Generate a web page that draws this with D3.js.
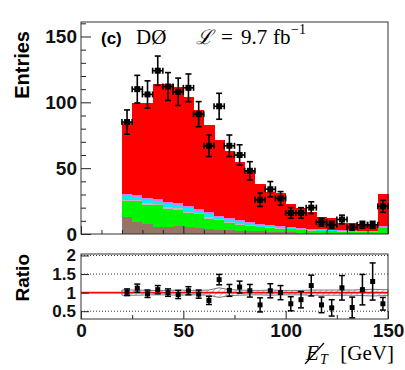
<!DOCTYPE html>
<html>
<head>
<meta charset="utf-8">
<script src="https://cdn.jsdelivr.net/npm/d3@7"></script>
<style>
body { margin: 0; background: #fff; }
</style>
</head>
<body>
<svg id="chart" width="405" height="370"></svg>
<script>
"use strict";
// bins: lower edges in GeV, all 5 GeV wide
var binLow = [20,25,30,35,40,45,50,55,60,65,70,75,80,85,90,95,100,105,110,115,120,125,130,135,140,145];
var binWidth = 5;

// stacked MC components (entries per bin), bottom to top
var bkgBrown   = [12.6,9.3,7.5,5.6,5.0,6.0,5.0,4.8,3.8,3.2,3.0,2.5,2.0,2.3,1.5,1.5,1.2,1.0,1.0,0.8,0.8,0.6,0.6,0.5,0.5,0.8];
var bkgGreen   = [12.4,15.7,14.5,16.4,14.0,12.5,10.7,10.2,7.7,7.3,5.0,4.0,4.0,2.7,3.0,2.5,2.3,2.0,1.5,1.4,1.2,1.2,1.0,1.0,1.0,3.7];
var bkgGray    = [1.2,1.1,1.2,1.1,1.2,1.2,1.3,1.0,1.2,0.9,1.1,1.0,0.7,0.6,0.5,0.5,0.4,0.4,0.4,0.3,0.3,0.3,0.3,0.2,0.2,0.4];
var bkgCyan    = [2.3,2.0,2.3,2.0,2.3,2.3,2.4,1.8,2.3,1.6,2.0,1.8,1.4,1.1,0.9,0.9,0.7,0.7,0.7,0.6,0.5,0.5,0.5,0.5,0.5,0.7];
var bkgMagenta = [1.5,1.4,1.5,1.4,1.5,1.5,1.6,1.2,1.5,1.0,1.4,1.2,0.9,0.8,0.6,0.6,0.4,0.4,0.4,0.4,0.4,0.4,0.3,0.3,0.3,0.4];
var bkgRed     = [54,70,72.5,87.5,90,88.5,83,75.5,66.1,57.2,50.5,44.5,38.5,30.5,25.5,25,18,15,13,9.5,8.8,5.5,5.3,4,4,24.3];

// observed data
var dataCounts = [85,110,106,124,112,108,111,91,67,97,67,60,48,26,34,27,16,16,20,9,7,11,5,7,7,21];

// ratio panel
var ratioVals = [1.01,1.12,0.97,1.08,1.0,0.95,1.05,0.96,0.79,1.35,1.06,1.15,1.05,0.67,1.05,1.0,0.70,0.81,1.19,0.67,0.59,1.13,0.60,1.08,1.30,0.70];
var ratioErr  = [0.09,0.11,0.10,0.11,0.10,0.11,0.11,0.11,0.11,0.14,0.16,0.16,0.17,0.19,0.19,0.19,0.19,0.22,0.28,0.21,0.22,0.33,0.28,0.41,0.50,0.17];
var systBand  = [0.07,0.07,0.06,0.06,0.06,0.07,0.06,0.06,0.07,0.13,0.08,0.07,0.06,0.06,0.07,0.06,0.06,0.06,0.07,0.07,0.07,0.07,0.07,0.08,0.09,0.08];

var xTicks = [0,50,100,150];
var yTicksMain = [0,50,100,150];
var yTicksRatio = [0.5,1,1.5,2];

var layerKeys = ["brown","green","gray","cyan","magenta","red"];
var layerColors = {brown:"#937666", green:"#00f500", gray:"#c8b4c0", cyan:"#00f0f0", magenta:"#f070f0", red:"#ff0000"};

var svg = d3.select("#chart");
var mainTop = 22, mainBottom = 234, ratioTop = 254, ratioBottom = 319;
var left = 81, right = 388;

var x = d3.scaleLinear().domain([0,150]).range([left,right]);
var yMain = d3.scaleLinear().domain([0,161]).range([mainBottom,mainTop]);
var yRatio = d3.scaleLinear().domain([0.29,2.04]).range([ratioBottom,ratioTop]);

var rows = binLow.map(function(lo,i){
  return {lo:lo, brown:bkgBrown[i], green:bkgGreen[i], gray:bkgGray[i], cyan:bkgCyan[i], magenta:bkgMagenta[i], red:bkgRed[i]};
});
var stacked = d3.stack().keys(layerKeys)(rows);

// stacked histogram
svg.append("g").selectAll("g").data(stacked).join("g")
  .attr("fill", function(s){ return layerColors[s.key]; })
  .selectAll("rect").data(function(s){ return s; }).join("rect")
  .attr("shape-rendering","crispEdges")
  .attr("x", function(d){ return x(d.data.lo); })
  .attr("width", function(d){ return x(d.data.lo+binWidth)-x(d.data.lo)+0.5; })
  .attr("y", function(d){ return yMain(d[1]); })
  .attr("height", function(d){ return Math.max(0, yMain(d[0])-yMain(d[1])); });

// main frame and axes
var axisFont = function(g, size){
  g.select(".domain").remove();
  g.selectAll("line").attr("stroke","#222");
  g.selectAll("text").attr("font-family","'Liberation Sans', Arial, sans-serif")
    .attr("font-weight","bold").attr("font-size",size).attr("fill","#111");
};
svg.append("g").attr("transform","translate("+left+",0)")
  .call(d3.axisLeft(yMain).tickValues(yTicksMain).tickSize(-10).tickPadding(4).tickFormat(d3.format("d")))
  .call(axisFont, 19);
svg.append("g").attr("transform","translate("+left+",0)")
  .call(d3.axisLeft(yMain).tickValues(d3.range(10,161,10).filter(function(v){ return v%50; })).tickSize(-5).tickFormat(""))
  .call(axisFont, 19);
svg.append("g").attr("transform","translate(0,"+mainBottom+")")
  .call(d3.axisBottom(x).tickValues(xTicks).tickSize(-8).tickFormat(""))
  .call(axisFont, 19);
svg.append("g").attr("transform","translate(0,"+mainBottom+")")
  .call(d3.axisBottom(x).tickValues(d3.range(10,150,10).filter(function(v){ return v%50; })).tickSize(-4).tickFormat(""))
  .call(axisFont, 19);
svg.append("rect").attr("x",left).attr("y",mainTop).attr("width",right-left).attr("height",mainBottom-mainTop)
  .attr("fill","none").attr("stroke","#333").attr("stroke-width",1);

// data points with errors
var pts = svg.append("g").attr("stroke","#000").attr("stroke-width",1.6);
binLow.forEach(function(lo,i){
  var n = dataCounts[i], e = Math.sqrt(n);
  var cx = x(lo+binWidth/2), cy = yMain(n);
  var yh = yMain(n+e), yl = yMain(n-e);
  var xl = x(lo), xr = x(lo+binWidth);
  pts.append("line").attr("x1",cx).attr("x2",cx).attr("y1",yh).attr("y2",yl);
  pts.append("line").attr("x1",cx-3).attr("x2",cx+3).attr("y1",yh).attr("y2",yh);
  pts.append("line").attr("x1",cx-3).attr("x2",cx+3).attr("y1",yl).attr("y2",yl);
  pts.append("line").attr("x1",xl).attr("x2",xr).attr("y1",cy).attr("y2",cy);
  pts.append("line").attr("x1",xl).attr("x2",xl).attr("y1",cy-3).attr("y2",cy+3);
  pts.append("line").attr("x1",xr).attr("x2",xr).attr("y1",cy-3).attr("y2",cy+3);
  pts.append("rect").attr("x",cx-3).attr("y",cy-3).attr("width",6).attr("height",6)
    .attr("fill","#000").attr("stroke","none");
});

// title text
var serif = "'Liberation Serif', 'DejaVu Serif', serif";
svg.append("text").attr("x",101).attr("y",44).attr("font-family","'Liberation Sans', Arial, sans-serif")
  .attr("font-weight","bold").attr("font-size",17).text("(c)");
svg.append("text").attr("x",136).attr("y",44).attr("font-family",serif).attr("font-size",21).text("DØ");
svg.append("text").attr("x",196).attr("y",44).attr("font-family","'DejaVu Serif', serif").attr("font-style","italic")
  .attr("font-size",20).text("ℒ");
svg.append("text").attr("x",221).attr("y",44).attr("font-family",serif).attr("font-size",21).text("=");
svg.append("text").attr("x",241).attr("y",44).attr("font-family",serif).attr("font-size",21).text("9.7");
svg.append("text").attr("x",273).attr("y",44).attr("font-family",serif).attr("font-size",21).text("fb");
svg.append("text").attr("x",291).attr("y",34).attr("font-family",serif).attr("font-size",14).text("−1");

// y label
svg.append("text").attr("transform","translate(29,31) rotate(-90)").attr("text-anchor","end")
  .attr("font-family","'Liberation Sans', Arial, sans-serif").attr("font-weight","bold").attr("font-size",20)
  .text("Entries");

// ratio panel
var grid = svg.append("g");
yTicksRatio.forEach(function(v){
  grid.append("line").attr("x1",left).attr("x2",right).attr("y1",yRatio(v)).attr("y2",yRatio(v))
    .attr("stroke","#000").attr("stroke-width",0.8).attr("stroke-dasharray","1,2");
});

var defs = svg.append("defs");
defs.append("pattern").attr("id","hatch").attr("patternUnits","userSpaceOnUse")
  .attr("width",4).attr("height",4).attr("patternTransform","rotate(45)")
  .append("line").attr("x1",0).attr("y1",0).attr("x2",0).attr("y2",4)
  .attr("stroke","#888").attr("stroke-width",1.2);

var bandPts = [{x:binLow[0], h:systBand[0]}];
binLow.forEach(function(lo,i){ bandPts.push({x:lo+binWidth/2, h:systBand[i]}); });
bandPts.push({x:binLow[binLow.length-1]+binWidth, h:systBand[systBand.length-1]});
svg.append("path").datum(bandPts)
  .attr("d", d3.area().x(function(d){ return x(d.x); })
    .y0(function(d){ return yRatio(1-d.h); }).y1(function(d){ return yRatio(1+d.h); }))
  .attr("fill","url(#hatch)").attr("stroke","#777").attr("stroke-width",1);

svg.append("line").attr("x1",left).attr("x2",right).attr("y1",yRatio(1)).attr("y2",yRatio(1))
  .attr("stroke","#ff0000").attr("stroke-width",1.6);

var rpts = svg.append("g").attr("stroke","#000").attr("stroke-width",1.5);
binLow.forEach(function(lo,i){
  var r = ratioVals[i], e = ratioErr[i];
  var cx = x(lo+binWidth/2), cy = yRatio(r);
  var yh = yRatio(r+e), yl = yRatio(Math.max(0.29, r-e));
  rpts.append("line").attr("x1",cx).attr("x2",cx).attr("y1",yh).attr("y2",yl);
  rpts.append("line").attr("x1",cx-3).attr("x2",cx+3).attr("y1",yh).attr("y2",yh);
  if (r-e > 0.29) rpts.append("line").attr("x1",cx-3).attr("x2",cx+3).attr("y1",yl).attr("y2",yl);
  rpts.append("rect").attr("x",cx-2.5).attr("y",cy-2.5).attr("width",5).attr("height",5)
    .attr("fill","#000").attr("stroke","none");
});

svg.append("g").attr("transform","translate("+left+",0)")
  .call(d3.axisLeft(yRatio).tickValues(yTicksRatio).tickSize(-8).tickPadding(5).tickFormat(d3.format("")))
  .call(axisFont, 17);
svg.append("g").attr("transform","translate(0,"+ratioBottom+")")
  .call(d3.axisBottom(x).tickValues(xTicks).tickSize(-8).tickPadding(5).tickFormat(d3.format("d")))
  .call(axisFont, 19);
svg.append("g").attr("transform","translate(0,"+ratioBottom+")")
  .call(d3.axisBottom(x).tickValues([25,75,125]).tickSize(-4).tickFormat(""))
  .call(axisFont, 19);
svg.append("rect").attr("x",left).attr("y",ratioTop).attr("width",right-left).attr("height",ratioBottom-ratioTop)
  .attr("fill","none").attr("stroke","#333").attr("stroke-width",1);

svg.append("text").attr("transform","translate(29,254) rotate(-90)").attr("text-anchor","end")
  .attr("font-family","'Liberation Sans', Arial, sans-serif").attr("font-weight","bold").attr("font-size",19)
  .text("Ratio");

// x axis title: missing E_T
svg.append("text").attr("x",306).attr("y",360).attr("font-family",serif).attr("font-style","italic")
  .attr("font-size",21).text("E");
svg.append("line").attr("x1",305).attr("y1",364).attr("x2",324).attr("y2",343)
  .attr("stroke","#000").attr("stroke-width",1.2);
svg.append("text").attr("x",320).attr("y",364).attr("font-family",serif).attr("font-style","italic")
  .attr("font-size",14).text("T");
svg.append("text").attr("x",394).attr("y",360).attr("text-anchor","end").attr("font-family",serif)
  .attr("font-size",21).text("[GeV]");
</script>
</body>
</html>
